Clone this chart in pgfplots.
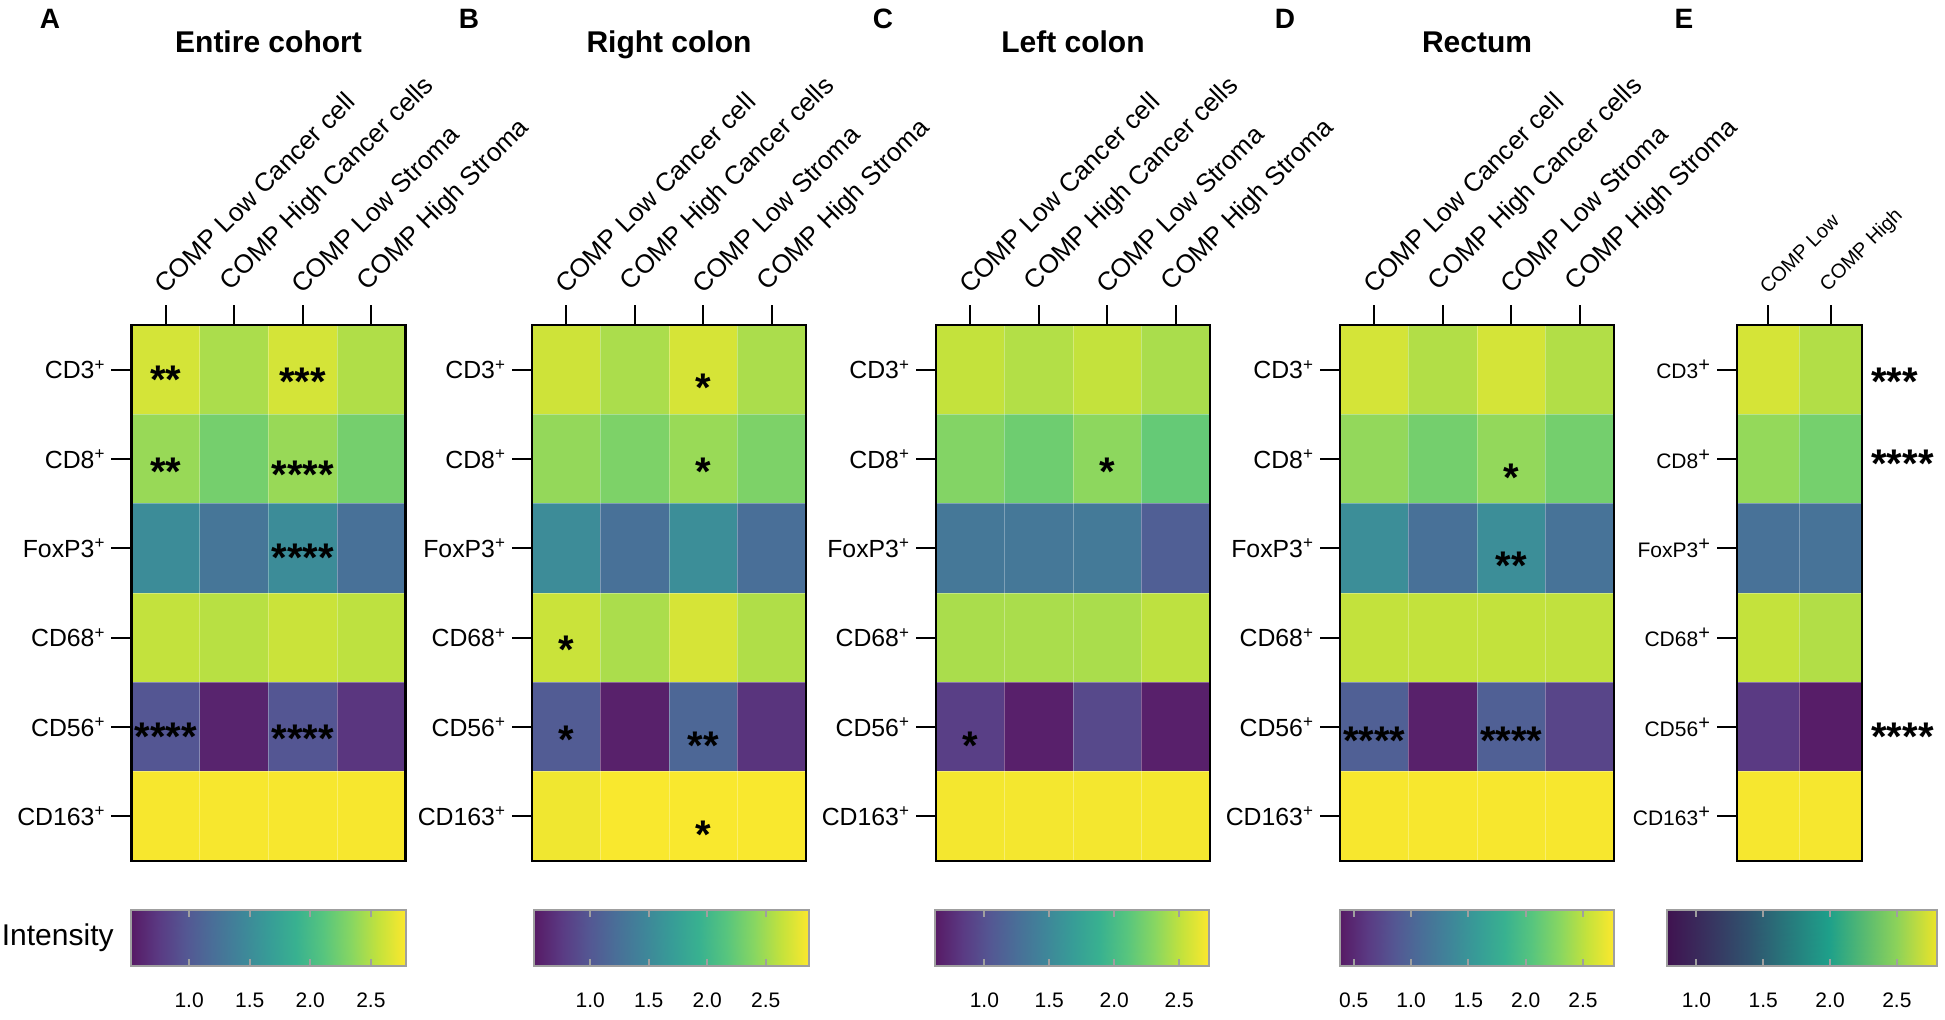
\documentclass[border=0pt]{standalone}
\usepackage{fontspec}
\setmainfont{Liberation Sans}
\usepackage{pgfplots}
\usepackage{pgfplotstable}
\pgfplotsset{compat=1.18}

\newcommand{\lab}[1]{#1\raisebox{4.4pt}{\fontsize{8.5}{8.5}\selectfont +}}
\newcommand{\labE}[1]{#1\raisebox{3.6pt}{\fontsize{10}{10}\selectfont +}}
\newcommand{\astf}{\bfseries\fontsize{20}{22}\selectfont}
\newcommand{\stars}[4]{\node[font=\astf, anchor=base, inner sep=0pt, yshift={-11.6pt-#4*0.5pt}] at (axis cs:#1,#2) {#3};}
\newcommand{\starsE}[3]{\node[font=\astf, anchor=base west, inner sep=0pt, xshift=4.5pt, yshift={-11.6pt-#3*0.5pt}] at (axis cs:1.5,#1) {#2};}

\pgfplotsset{
  colormap={vir}{rgb255=(87,26,101) rgb255=(90,58,131) rgb255=(84,87,147) rgb255=(73,111,152) rgb255=(63,133,153) rgb255=(55,156,151) rgb255=(56,177,144) rgb255=(87,197,126) rgb255=(135,214,98) rgb255=(196,226,60) rgb255=(252,232,45)},
  colormap={virE}{rgb255(0cm)=(64,18,80) rgb255(3cm)=(48,82,110) rgb255(6cm)=(30,160,138) rgb255(8.5cm)=(140,210,90) rgb255(10cm)=(236,228,40)},
  heat/.style={
    scale only axis, height=268pt, anchor=north west,
    colormap name=vir, enlargelimits=false,
    xmin=-0.5, ymin=-0.5, ymax=5.5,
    y dir=reverse,
    axis on top, clip=false,
    axis line style={line width=1.1pt, black},
    xtick pos=right, ytick pos=left, xticklabel pos=right,
    tick align=outside,
    major tick length=10pt,
    major tick style={black, line width=1pt},
    minor tick length=0pt,
    ytick={0,...,5},
    minor ytick={0.5,1.5,...,4.5},
    yminorgrids, xminorgrids,
    minor grid style={white, opacity=0.3, line width=0.5pt},
  },
  heat4/.style={heat, width=137pt, xmax=3.5, xtick={0,...,3}, minor xtick={0.5,1.5,2.5},
    xticklabels={COMP Low Cancer cell, COMP High Cancer cells, COMP Low Stroma, COMP High Stroma},
    yticklabels={\lab{CD3},\lab{CD8},\lab{FoxP3},\lab{CD68},\lab{CD56},\lab{CD163}},
    yticklabel style={font=\fontsize{12.4}{14}\selectfont},
    xticklabel style={font=\fontsize{13}{15}\selectfont, rotate=45, anchor=south west},
  },
  cbar/.style={
    scale only axis, height=28pt, anchor=north west,
    enlargelimits=false, ymin=0, ymax=1, view={0}{90},
    axis on top,
    axis line style={draw=gray!75, line width=1.2pt},
    tick align=inside,
    major tick length=3.5pt,
    xtick style={draw=gray!75, line width=1pt},
    xtick pos=both,
    xticklabel pos=left,
    xticklabel style={font=\fontsize{10.5}{12}\selectfont, yshift=-10pt},
    ytick=\empty,
  },
}

\pgfplotstableread{
x y c
0 0 2.63
1 0 2.47
2 0 2.63
3 0 2.49
0 1 2.40
1 1 2.25
2 1 2.40
3 1 2.25
0 2 1.50
1 2 1.27
2 2 1.50
3 2 1.22
0 3 2.56
1 3 2.52
2 3 2.59
3 3 2.54
0 4 0.97
1 4 0.59
2 4 0.97
3 4 0.72
0 5 2.77
1 5 2.77
2 5 2.77
3 5 2.77
}\dataA

\pgfplotstableread{
x y c
0 0 2.68
1 0 2.54
2 0 2.71
3 0 2.54
0 1 2.45
1 1 2.35
2 1 2.47
3 1 2.35
0 2 1.53
1 2 1.25
2 2 1.55
3 2 1.23
0 3 2.66
1 3 2.54
2 3 2.71
3 3 2.56
0 4 1.04
1 4 0.57
2 4 1.15
3 4 0.71
0 5 2.82
1 5 2.86
2 5 2.86
3 5 2.86
}\dataB

\pgfplotstableread{
x y c
0 0 2.52
1 0 2.46
2 0 2.52
3 0 2.43
0 1 2.29
1 1 2.20
2 1 2.33
3 1 2.16
0 2 1.34
1 2 1.34
2 2 1.36
3 2 1.11
0 3 2.43
1 3 2.43
2 3 2.43
3 3 2.50
0 4 0.87
1 4 0.66
2 4 0.94
3 4 0.66
0 5 2.70
1 5 2.70
2 5 2.70
3 5 2.70
}\dataC

\pgfplotstableread{
x y c
0 0 2.60
1 0 2.46
2 0 2.60
3 0 2.46
0 1 2.34
1 1 2.20
2 1 2.34
3 1 2.20
0 2 1.43
1 2 1.12
2 2 1.43
3 2 1.14
0 3 2.53
1 3 2.53
2 3 2.53
3 3 2.52
0 4 0.95
1 4 0.43
2 4 0.95
3 4 0.71
0 5 2.75
1 5 2.75
2 5 2.75
3 5 2.75
}\dataD

\pgfplotstableread{
x y c
0 0 2.66
1 0 2.54
0 1 2.44
1 1 2.32
0 2 1.41
1 2 1.42
0 3 2.60
1 3 2.54
0 4 0.98
1 4 0.80
0 5 2.78
1 5 2.78
}\dataE

\begin{document}
\begin{tikzpicture}
\useasboundingbox (0,0) rectangle (972.5pt,-509.5pt);

% Panel letters and titles
\foreach \l/\x in {A/25,B/234.5,C/441.5,D/642.5,E/842}{
  \node[font=\bfseries\fontsize{14}{16}\selectfont, inner sep=0pt, anchor=base] at (\x pt,-14.3pt) {\l};
}
\node[font=\bfseries\fontsize{15}{17}\selectfont, inner sep=0pt, anchor=base] at (134.25pt,-26pt) {Entire cohort};
\node[font=\bfseries\fontsize{15}{17}\selectfont, inner sep=0pt, anchor=base] at (334.5pt,-26pt) {Right colon};
\node[font=\bfseries\fontsize{15}{17}\selectfont, inner sep=0pt, anchor=base] at (536.5pt,-26pt) {Left colon};
\node[font=\bfseries\fontsize{15}{17}\selectfont, inner sep=0pt, anchor=base] at (738.5pt,-26pt) {Rectum};

% Panel A
\begin{axis}[heat4, at={(65.75pt,-162.5pt)}, point meta min=0.52, point meta max=2.79]
\addplot[matrix plot*, mesh/cols=4, point meta=explicit] table[meta=c] {\dataA};
\stars{0}{0}{**}{1}
\stars{2}{0}{***}{3}
\stars{0}{1}{**}{3}
\stars{2}{1}{****}{6}
\stars{2}{2}{****}{0}
\stars{0}{4}{****}{0}
\stars{2}{4}{****}{2}
\end{axis}

% Panel B
\begin{axis}[heat4, at={(266pt,-162.5pt)}, point meta min=0.52, point meta max=2.87]
\addplot[matrix plot*, mesh/cols=4, point meta=explicit] table[meta=c] {\dataB};
\stars{2}{0}{*}{9}
\stars{2}{1}{*}{3}
\stars{0}{3}{*}{3}
\stars{0}{4}{*}{3}
\stars{2}{4}{**}{9}
\stars{2}{5}{*}{9}
\end{axis}

% Panel C
\begin{axis}[heat4, at={(468pt,-162.5pt)}, point meta min=0.62, point meta max=2.73]
\addplot[matrix plot*, mesh/cols=4, point meta=explicit] table[meta=c] {\dataC};
\stars{2}{1}{*}{3}
\stars{0}{4}{*}{9}
\end{axis}

% Panel D
\begin{axis}[heat4, at={(670pt,-162.5pt)}, point meta min=0.38, point meta max=2.77]
\addplot[matrix plot*, mesh/cols=4, point meta=explicit] table[meta=c] {\dataD};
\stars{2}{1}{*}{9}
\stars{2}{2}{**}{8}
\stars{0}{4}{****}{4}
\stars{2}{4}{****}{4}
\end{axis}

% Panel E
\begin{axis}[heat, width=62.5pt, xmax=1.5, xtick={0,1}, minor xtick={0.5},
  point meta min=0.78, point meta max=2.8,
  at={(868.5pt,-162.5pt)},
  xticklabels={COMP Low, COMP High},
  yticklabels={\labE{CD3},\labE{CD8},\labE{FoxP3},\labE{CD68},\labE{CD56},\labE{CD163}},
  yticklabel style={font=\fontsize{10.5}{12}\selectfont},
  xticklabel style={font=\fontsize{10}{12}\selectfont, rotate=45, anchor=south west}]
\addplot[matrix plot*, mesh/cols=2, point meta=explicit] table[meta=c] {\dataE};
\starsE{0}{***}{3}
\starsE{1}{****}{-5}
\starsE{4}{****}{0}
\end{axis}

% Colour scales
\node[anchor=east, font=\fontsize{15}{18}\selectfont, inner sep=0pt] at (57pt,-469pt) {Intensity};

\begin{axis}[cbar, width=137.5pt, at={(65.5pt,-455pt)}, colormap name=vir,
  xmin=0.52, xmax=2.79, point meta min=0.52, point meta max=2.79,
  xtick={1,1.5,2,2.5}, xticklabels={1.0,1.5,2.0,2.5}]
\addplot[surf, shader=interp, mesh/cols=2, point meta=x] coordinates {(0.52,0) (2.79,0) (0.52,1) (2.79,1)};
\end{axis}
\begin{axis}[cbar, width=137.5pt, at={(267pt,-455pt)}, colormap name=vir,
  xmin=0.52, xmax=2.87, point meta min=0.52, point meta max=2.87,
  xtick={1,1.5,2,2.5}, xticklabels={1.0,1.5,2.0,2.5}]
\addplot[surf, shader=interp, mesh/cols=2, point meta=x] coordinates {(0.52,0) (2.87,0) (0.52,1) (2.87,1)};
\end{axis}
\begin{axis}[cbar, width=137pt, at={(467.5pt,-455pt)}, colormap name=vir,
  xmin=0.62, xmax=2.73, point meta min=0.62, point meta max=2.73,
  xtick={1,1.5,2,2.5}, xticklabels={1.0,1.5,2.0,2.5}]
\addplot[surf, shader=interp, mesh/cols=2, point meta=x] coordinates {(0.62,0) (2.73,0) (0.62,1) (2.73,1)};
\end{axis}
\begin{axis}[cbar, width=137pt, at={(670pt,-455pt)}, colormap name=vir,
  xmin=0.38, xmax=2.77, point meta min=0.38, point meta max=2.77,
  xtick={0.5,1,1.5,2,2.5}, xticklabels={0.5,1.0,1.5,2.0,2.5}]
\addplot[surf, shader=interp, mesh/cols=2, point meta=x] coordinates {(0.38,0) (2.77,0) (0.38,1) (2.77,1)};
\end{axis}
\begin{axis}[cbar, width=135pt, at={(833.5pt,-455pt)}, colormap name=virE,
  xmin=0.78, xmax=2.8, point meta min=0.78, point meta max=2.8,
  xtick={1,1.5,2,2.5}, xticklabels={1.0,1.5,2.0,2.5}]
\addplot[surf, shader=interp, mesh/cols=2, point meta=x] coordinates {(0.78,0) (2.8,0) (0.78,1) (2.8,1)};
\end{axis}

\end{tikzpicture}
\end{document}
